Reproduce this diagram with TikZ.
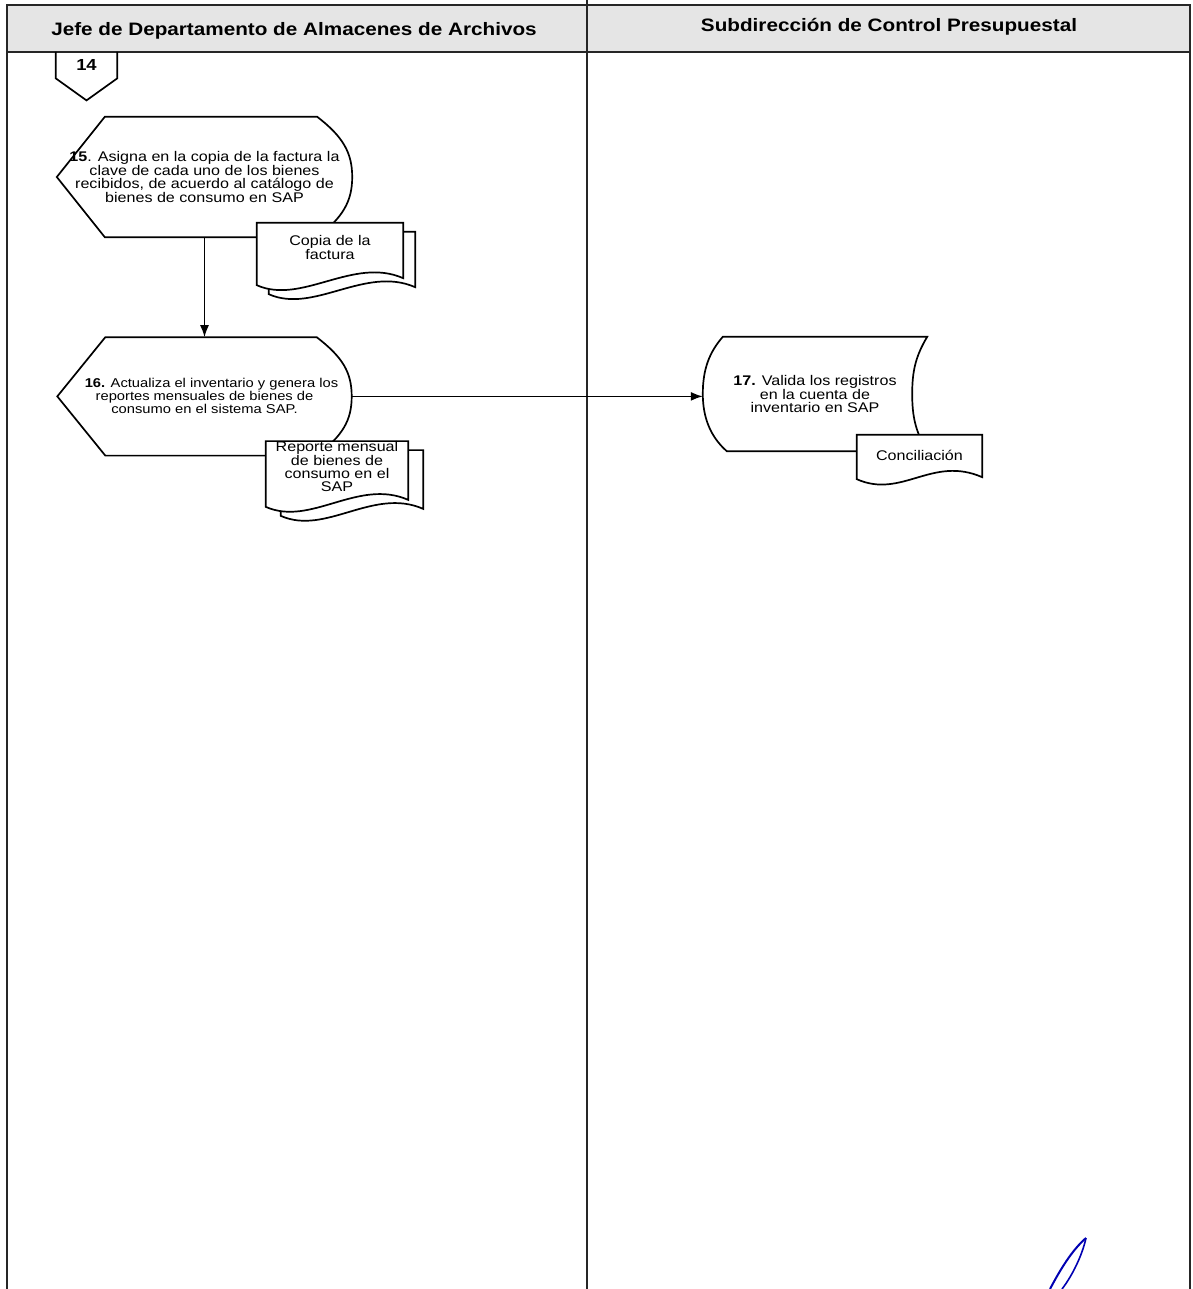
\documentclass[tikz,border=0pt]{standalone}
\usepackage{fontspec}
\setmainfont{Liberation Sans}
\newfontfamily\flowfont[FakeStretch=1.15]{Liberation Sans}
\usepackage{tikz}
\usetikzlibrary{arrows.meta,positioning,backgrounds}

% outline of a step: pointed left side, rounded right side
\newcommand{\dispshape}[1]{%
  \draw[shapeline] (#1.west) -- ([xshift=48pt]#1.north west)
    -- ([xshift=-35pt]#1.north east)
    .. controls +(26pt,-20pt) and +(0pt,24pt) .. (#1.east)
    .. controls +(0pt,-24pt) and +(26pt,20pt) .. ([xshift=-35pt]#1.south east)
    -- ([xshift=48pt]#1.south west) -- cycle;}

% document sheet: node, left drop, right drop, x offset, y offset
\newcommand{\docshape}[5]{%
  \draw[docline] ([xshift=#4,yshift=#5]#1.north west) -- ([xshift=#4,yshift=#5]#1.north east)
    -- ([xshift=#4,yshift=#5-#3]#1.south east)
    .. controls +(-50pt,22pt) and +(45pt,-20pt) .. ([xshift=#4,yshift=#5-#2]#1.south west)
    -- cycle;}

\begin{document}
\begin{tikzpicture}[x=1pt, y=1pt,
    laneline/.style={line width=2pt, black!85},
    lanehead/.style={font=\flowfont\bfseries\fontsize{18pt}{20pt}\selectfont},
    stepbox/.style={inner sep=0pt, align=center,
                    font=\flowfont\fontsize{14pt}{13pt}\selectfont},
    docbox/.style={stepbox},
    shapeline/.style={line width=1.7pt},
    docline/.style={line width=1.7pt, fill=white},
    arrow/.style={-{Latex[length=12pt,width=9pt]}, line width=1.6pt},
  ]

  \useasboundingbox (0,0) rectangle (1192,-1289);

  % swimlanes
  \fill[gray!20] (7,-5) rectangle (1190,-52);
  \draw[laneline] (7,-1289) -- (7,-5) -- (1190,-5) -- (1190,-1289);
  \draw[laneline] (7,-52) -- (1190,-52);
  \draw[laneline] (587,0) -- (587,-1289);

  \node[lanehead] (laneA) at (294,-31) {Jefe de Departamento de Almacenes de Archivos};
  \node[lanehead] (laneB) at (889,-27) {Subdirección de Control Presupuestal};

  % off-page connector
  \node[stepbox, font=\flowfont\bfseries\fontsize{16pt}{16pt}\selectfont,
        minimum width=61pt, minimum height=26pt, anchor=north] (c14) at (86.5,-52) {14};
  \draw[shapeline] (c14.north west) -- (c14.south west) -- ([yshift=-22pt]c14.south)
    -- (c14.south east) -- (c14.north east);

  % steps
  \node[stepbox, minimum width=295pt, minimum height=120pt] (p15) at (204.5,-177)
      {\textbf{15}. Asigna en la copia de la factura la\\clave de cada uno de los bienes\\recibidos, de acuerdo al catálogo de\\bienes de consumo en SAP};

  \node[stepbox, font=\flowfont\fontsize{12.8pt}{13pt}\selectfont,
        minimum width=294pt, minimum height=118pt, below=100pt of p15] (p16)
      {\hspace*{14pt}\textbf{16.} Actualiza el inventario y genera los\\reportes mensuales de bienes de\\consumo en el sistema SAP.};

  \node[stepbox, minimum width=224pt, minimum height=114pt] (p17) at (815,-394)
      {\textbf{17.} Valida los registros\\en la cuenta de\\inventario en SAP};

  % documents
  \node[docbox, minimum width=146pt, minimum height=49pt] (d15) at (330,-247.5)
      {Copia de la\\factura};
  \node[docbox, minimum width=142pt, minimum height=47pt] (d16) at (337,-466.5)
      {Reporte mensual\\de bienes de\\consumo en el\\SAP};
  \node[docbox, minimum width=125pt, minimum height=40pt] (d17) at (919.5,-455)
      {Conciliación};

  \begin{scope}[on background layer]
    \dispshape{p15}
    \dispshape{p16}
    \draw[shapeline] ([xshift=20pt]p17.north west) -- (p17.north east)
      .. controls +(-12pt,-20pt) and +(0pt,22pt) .. ([xshift=-15pt]p17.east)
      .. controls +(0pt,-22pt) and +(-12pt,20pt) .. (p17.south east)
      -- ([xshift=24pt]p17.south west)
      .. controls +(-16pt,14pt) and +(0pt,-24pt) .. (p17.west)
      .. controls +(0pt,24pt) and +(-14pt,-16pt) .. ([xshift=20pt]p17.north west)
      -- cycle;
    \docshape{d15}{13pt}{6pt}{12pt}{-9pt}
    \docshape{d15}{13pt}{6pt}{0pt}{0pt}
    \docshape{d16}{15pt}{8pt}{15pt}{-9pt}
    \docshape{d16}{15pt}{8pt}{0pt}{0pt}
    \docshape{d17}{4pt}{2pt}{0pt}{0pt}
  \end{scope}

  % flow
  \draw[arrow] (p15.south) -- (p15.south |- p16.north);
  \draw[arrow] (p16.east) -- (p16.east -| p17.west);

  % signature stroke
  \draw[blue!70!black, line width=2pt] (1086,-1238)
    .. controls (1072,-1250) and (1060,-1270) .. (1050,-1289);
  \draw[blue!70!black, line width=1.6pt] (1086,-1238)
    .. controls (1082,-1256) and (1072,-1276) .. (1062,-1289);

\end{tikzpicture}
\end{document}
